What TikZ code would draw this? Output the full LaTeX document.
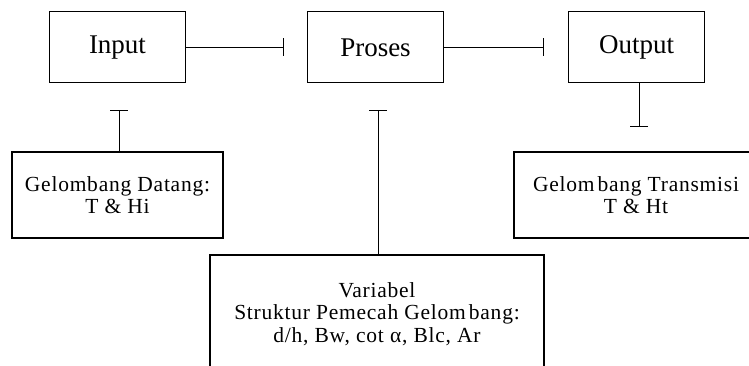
\documentclass[tikz,border=0pt]{standalone}
\usepackage{fontspec}
\setmainfont{Liberation Serif}
\newfontfamily\spacedfont[LetterSpace=3.5]{Liberation Serif}
\usetikzlibrary{arrows.meta}
\tikzset{
  topbox/.style={draw, line width=1pt, inner sep=0pt, minimum width=136pt, minimum height=71pt,
    font=\fontsize{27}{30}\selectfont},
  lowbox/.style={draw, line width=1.6pt, inner sep=0pt, align=center,
    font=\spacedfont\fontsize{21.5}{22.5}\selectfont},
  link/.style={line width=1pt, -{Bar[width=18pt,line width=1pt]}},
}
\begin{document}
\begin{tikzpicture}[x=1pt,y=-1pt]
\useasboundingbox (0,0) rectangle (749,366);
\clip (0,0) rectangle (749,366);
\node[topbox] (inp) at (117.5,47.5) {Input};
\node[topbox] (pro) at (375.5,47.5) {Proses};
\node[topbox] (out) at (636.5,47.5) {Output};
\node[lowbox, minimum width=211pt, minimum height=86pt] (dat) at (117.5,195)
  {Gelombang Datang:\\T \& Hi};
\node[lowbox, minimum width=244pt, minimum height=86pt] (tra) at (636,195)
  {Gelom\hspace{3pt}bang Transmisi\\T \& Ht};
\node[lowbox, minimum width=334pt, minimum height=118pt] (var) at (377,314)
  {Variabel\\Struktur Pemecah Gelom\hspace{3pt}bang:\\d/h, Bw, cot α, Blc, Ar};
\coordinate (c1) at (284,47.5);
\coordinate (c2) at (544,47.5);
\coordinate (c3) at (639,127);
\coordinate (c4) at (119,110);
\coordinate (c5) at (378,110);
\draw[link] (inp.east) -- (c1);
\draw[link] (pro.east) -- (c2);
\draw[link] (out.south -| c3) -- (c3);
\draw[link] (dat.north -| c4) -- (c4);
\draw[link] (var.north -| c5) -- (c5);
\end{tikzpicture}
\end{document}
